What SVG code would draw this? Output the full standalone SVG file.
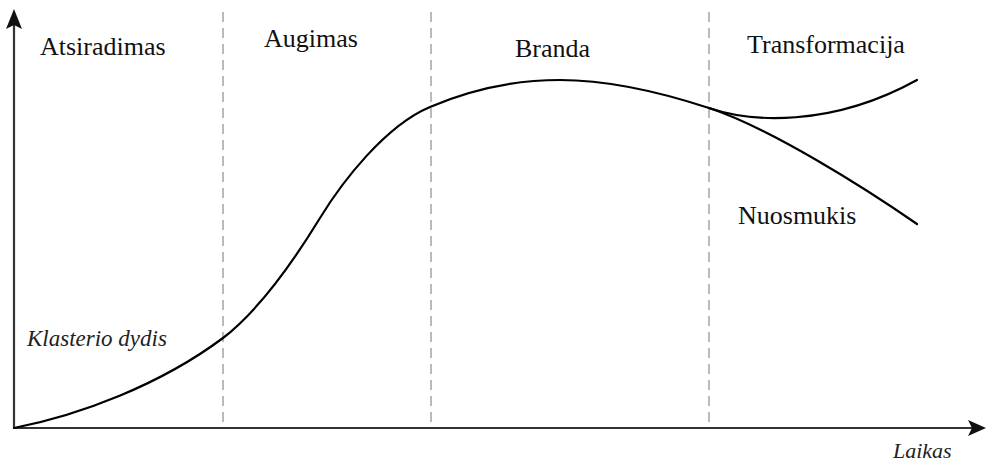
<svg xmlns="http://www.w3.org/2000/svg" width="987" height="465" viewBox="0 0 987 465">
<style>
.lbl{font-family:"Liberation Serif","Times New Roman",serif;font-size:26px;fill:#111}
.it{font-family:"Liberation Serif","Times New Roman",serif;font-size:23px;font-style:italic;fill:#222}
.dash{stroke:#aaa;stroke-width:1.6;stroke-dasharray:10 6;fill:none}
.axis{stroke:#333;stroke-width:2.2;fill:none}
.curve{stroke:#000;stroke-width:2.2;fill:none;stroke-linecap:round}
</style>
<rect width="987" height="465" fill="#fff"/>
<g id="phase-lines">
<line class="dash" x1="223" y1="12" x2="223" y2="428"/>
<line class="dash" x1="431" y1="12" x2="431" y2="428"/>
<line class="dash" x1="709" y1="12" x2="709" y2="428"/>
</g>
<g id="axes">
<line class="axis" x1="14" y1="428" x2="14" y2="22"/>
<path d="M14,9 L22,29 L14,25 L6,29 Z" fill="#111"/>
<line class="axis" x1="14" y1="428" x2="974" y2="428"/>
<path d="M986,428 L968,436 L972,428 L968,420 Z" fill="#111"/>
</g>
<g id="connectors">
<path class="curve" d="M14,428 C80,415 160,385 223,338 C262,308 298,254 320,218 C342,182 385,126 430,107 C470,90 515,80 560,80 C610,80 660,92 709,108"/>
<path class="curve" d="M709,108 C750,122 830,128 917,80"/>
<path class="curve" d="M709,108 C770,128 865,188 917,224"/>
</g>
<g id="labels">
<text class="lbl" x="40" y="55">Atsiradimas</text>
<text class="lbl" x="264" y="47">Augimas</text>
<text class="lbl" x="515" y="57">Branda</text>
<text class="lbl" x="747" y="53">Transformacija</text>
<text class="lbl" x="738" y="224">Nuosmukis</text>
<text class="it" x="27" y="346">Klasterio dydis</text>
<text class="it" x="893" y="458" style="font-size:22px">Laikas</text>
</g>
</svg>
